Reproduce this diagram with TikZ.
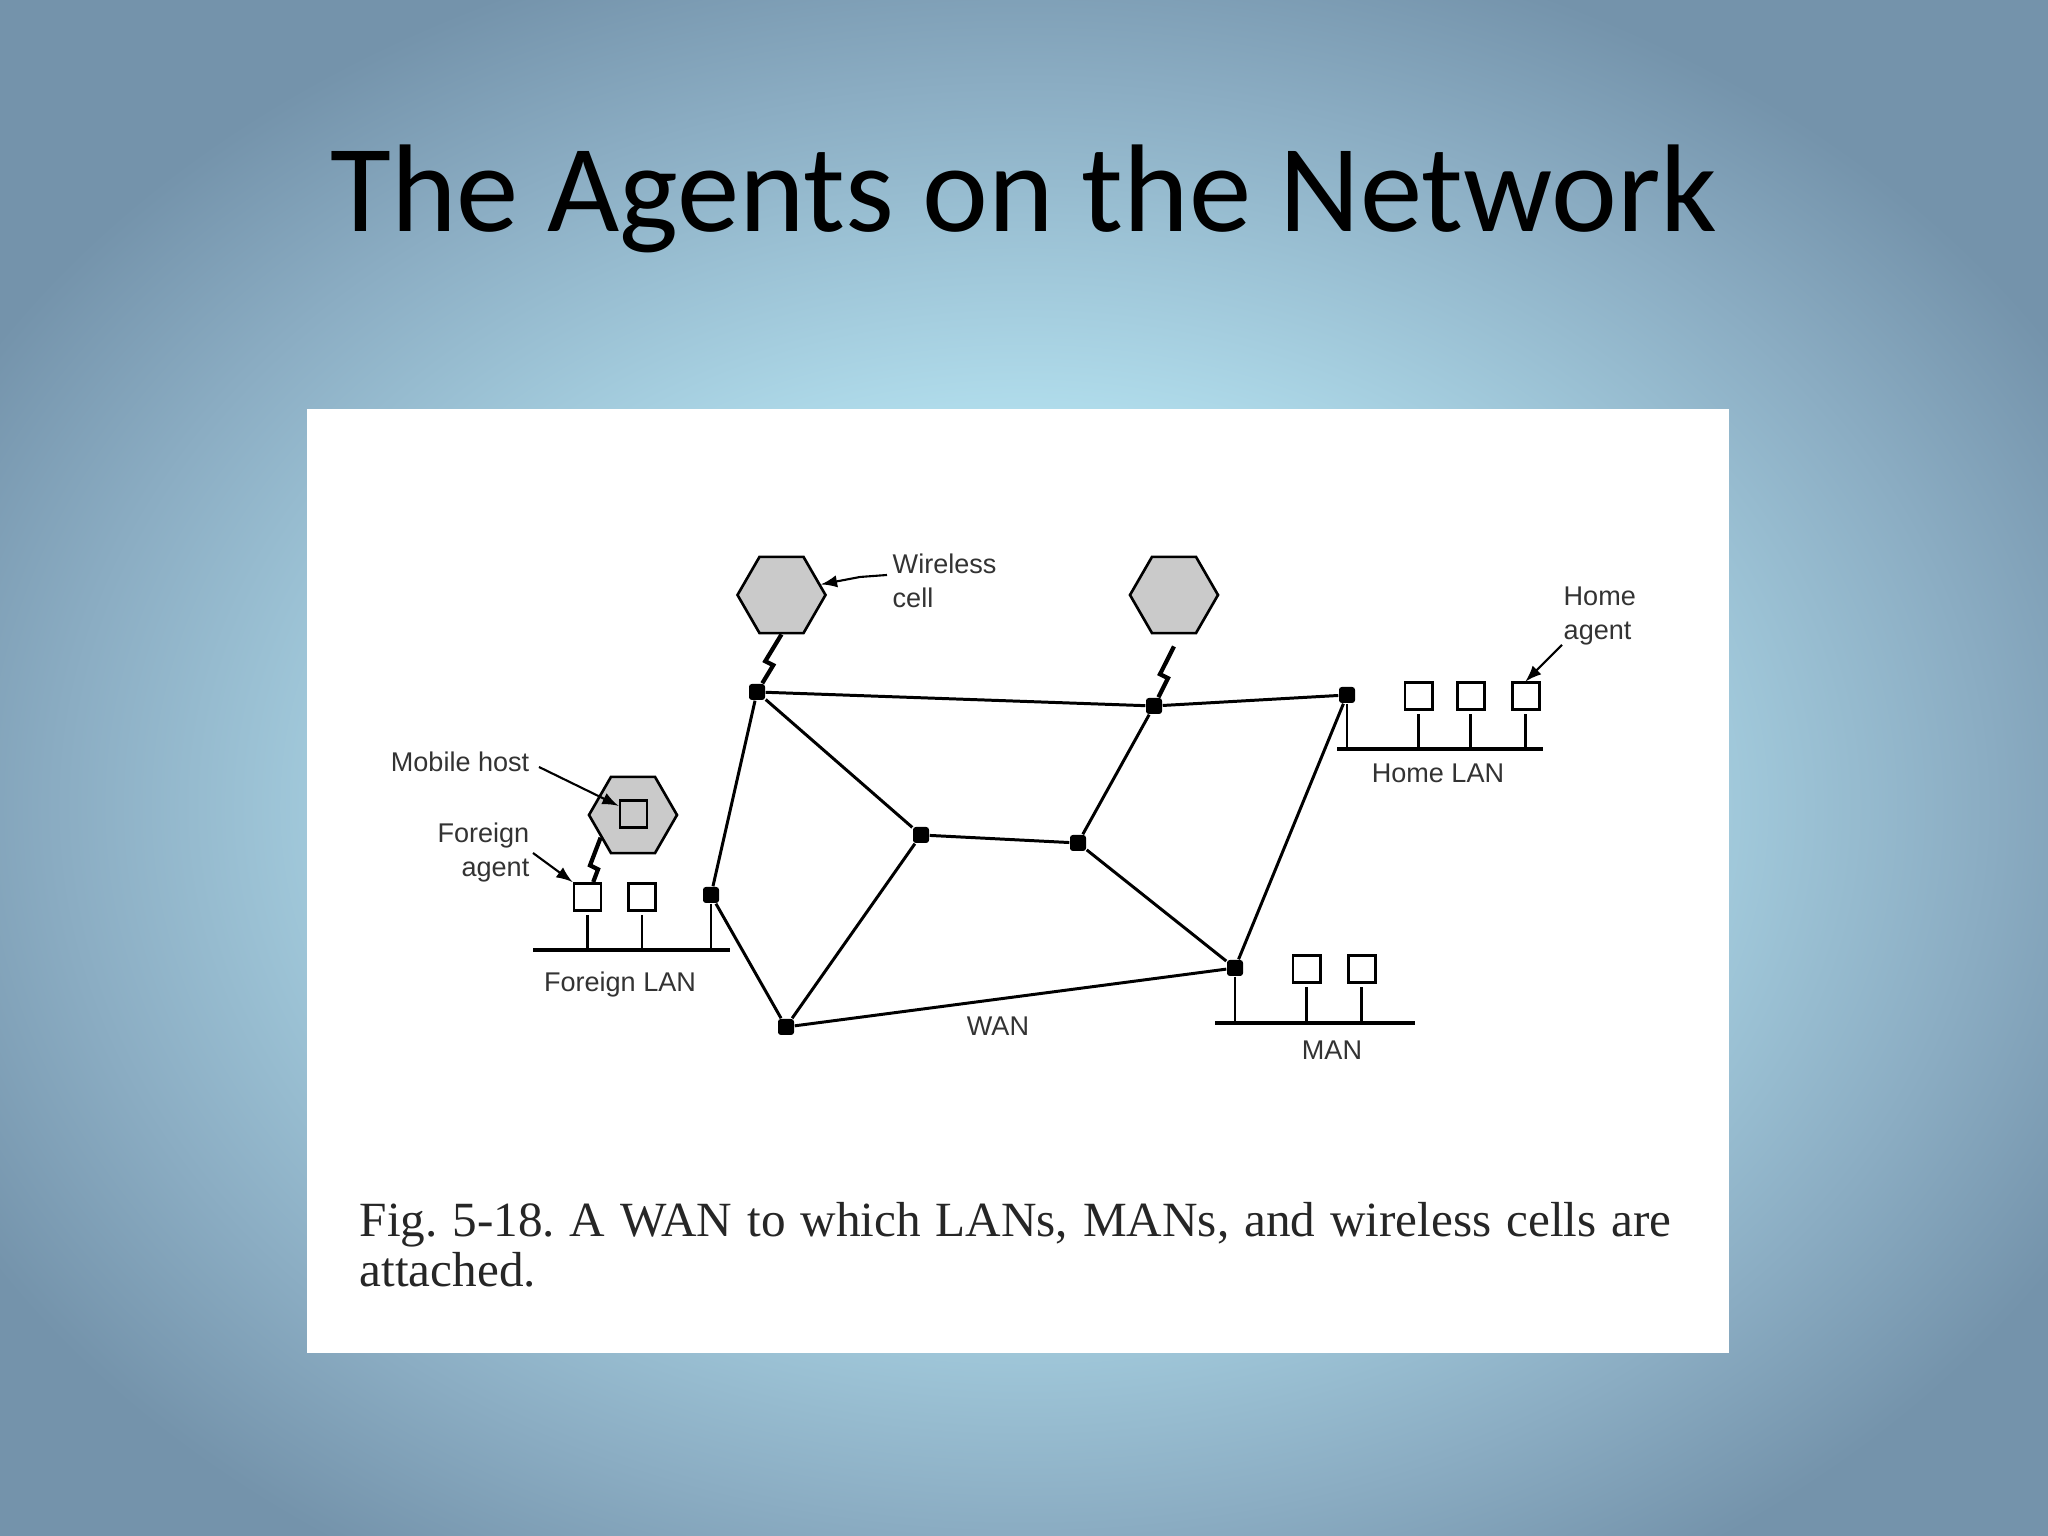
\documentclass[tikz,border=0pt]{standalone}
\usepackage{fontspec}
\usetikzlibrary{shapes.geometric,calc}
\newfontfamily\titrefont{Carlito}
\newfontfamily\legfont{Liberation Serif}
\newfontfamily\etiqfont{Liberation Sans}
\definecolor{fondclair}{HTML}{BDE8F4}
\definecolor{fondmoyen}{HTML}{B0DCEB}
\definecolor{fondsombre}{HTML}{8BADC3}
\definecolor{fondbord}{HTML}{7493AB}
\definecolor{grisclair}{HTML}{CACACA}
\pgfdeclareradialshading{fond}{\pgfpoint{0bp}{0bp}}{color(0bp)=(fondclair); color(11bp)=(fondmoyen); color(20bp)=(fondsombre); color(25bp)=(fondbord); color(50bp)=(fondbord)}

\begin{document}
\begin{tikzpicture}
 % definition des styles
  \tikzstyle{lien}=[line width=0.85pt]
  \tikzstyle{bus}=[line width=1.1pt]
  \tikzstyle{routeur}=[rectangle,fill=black,inner sep=0pt,minimum size=0.16cm,rounded corners=0.8pt]
  \tikzstyle{hote}=[rectangle,draw,line width=0.85pt,fill=white,inner sep=0pt,minimum size=0.27cm]
  \tikzstyle{cellule}=[regular polygon,regular polygon sides=6,draw,line width=0.75pt,fill=grisclair,inner sep=0pt,minimum size=0.88cm]
  \tikzstyle{fleche}=[->,>=latex,line width=0.6pt]
  \tikzstyle{foudre}=[line width=1.2pt,line join=miter]
  \tikzstyle{etiq}=[inner sep=0pt,text=black!80,font=\etiqfont\fontsize{7.7}{9.7}\selectfont]
  \newcommand{\eclair}[2]{\draw[foudre] (#1) -- ($(#1)!0.5!(#2)+(-0.04,0.02)$) -- ($(#1)!0.5!(#2)+(0.04,-0.02)$) -- (#2);}
 % le fond
  \useasboundingbox (0,0) rectangle (20.48,15.36);
  \begin{scope}
    \clip (0,0) rectangle (20.48,15.36);
    \fill[fondbord] (0,0) rectangle (20.48,15.36);
    \shade[shading=fond] (10.24,7.3) ellipse (12 and 9);
  \end{scope}
  \fill[white] (3.07,1.83) rectangle (17.29,11.27);
  \node[font=\titrefont\fontsize{35.5}{40}\selectfont,anchor=base] (titre) at (10.24,13.04) {The Agents on the Network};
 % les cellules
  \node[cellule] (cell1) at (7.815,9.41) {};
  \node[cellule] (cell2) at (11.74,9.41) {};
  \node[cellule] (cell3) at (6.33,7.21) {};
  \node[hote,fill=none] (mh) at (6.335,7.215) {};
 % les routeurs du WAN
  \node[routeur] (W1) at (7.57,8.44) {};
  \node[routeur] (W2) at (11.54,8.30) {};
  \node[routeur] (HL) at (13.47,8.41) {};
  \node[routeur] (C1) at (9.21,7.01) {};
  \node[routeur] (C2) at (10.78,6.93) {};
  \node[routeur] (FL) at (7.11,6.41) {};
  \node[routeur] (S) at (7.86,5.09) {};
  \node[routeur] (ML) at (12.35,5.68) {};
 % les hotes
  \node[hote] (fb1) at (5.875,6.39) {};
  \node[hote] (fb2) at (6.42,6.39) {};
  \node[hote] (hb1) at (14.185,8.395) {};
  \node[hote] (hb2) at (14.705,8.395) {};
  \node[hote] (hb3) at (15.255,8.395) {};
  \node[hote] (mb1) at (13.065,5.665) {};
  \node[hote] (mb2) at (13.615,5.665) {};
 % les bus
  \coordinate (fg) at (5.33,5.86);  \coordinate (fd) at (7.30,5.86);
  \coordinate (hg) at (13.37,7.87); \coordinate (hd) at (15.43,7.87);
  \coordinate (mg) at (12.15,5.13); \coordinate (md) at (14.15,5.13);
  \draw[bus] (fg)--(fd);  \draw[bus] (hg)--(hd);  \draw[bus] (mg)--(md);
  \draw[lien] (FL)--(FL|-fg);  \draw[lien] (HL)--(HL|-hg);  \draw[lien] (ML)--(ML|-mg);
  \foreach \h in {fb1,fb2} \draw[lien,shorten <=0.03cm] (\h)--(\h|-fg);
  \foreach \h in {hb1,hb2,hb3} \draw[lien,shorten <=0.03cm] (\h)--(\h|-hg);
  \foreach \h in {mb1,mb2} \draw[lien,shorten <=0.03cm] (\h)--(\h|-mg);
 % les liens
  \draw[lien] (W1)--(W2)--(HL);
  \draw[lien] (W1)--(C1)--(C2)--(W2);
  \draw[lien] (W1)--(FL)--(S)--(C1);
  \draw[lien] (S)--(ML)--(C2);
  \draw[lien] (ML)--(HL);
 % les eclairs
  \coordinate (e2) at ([yshift=-0.12cm]cell2.south);
  \eclair{cell1.south}{W1}
  \eclair{e2}{W2}
  \eclair{cell3.215}{fb1}
 % les textes (la base est celle de la derniere ligne)
  \node[etiq,anchor=base west,align=left] (wc) at (8.92,9.28) {Wireless\\cell};
  \node[etiq,anchor=base west,align=left] (ha) at (15.63,8.96) {Home\\agent};
  \node[etiq,anchor=base east] (mhl) at (5.30,7.64) {Mobile host};
  \node[etiq,anchor=base east,align=right] (fa) at (5.30,6.59) {Foreign\\agent};
  \node[etiq,anchor=base] (flan) at (6.20,5.44) {Foreign LAN};
  \node[etiq,anchor=base] (hlan) at (14.38,7.53) {Home LAN};
  \node[etiq,anchor=base] (man) at (13.32,4.76) {MAN};
  \node[etiq,anchor=base] (wan) at (9.98,5.00) {WAN};
 % les fleches
  \coordinate (wcq) at (8.87,9.61);
  \coordinate (haq) at (15.62,8.91);
  \coordinate (mhq) at (5.39,7.69);
  \coordinate (faq) at (5.33,6.83);
  \draw[fleche] (wcq)--(8.60,9.59)--(cell1.15);
  \draw[fleche] (haq)--(hb3.north);
  \draw[fleche] (mhq)--(mh.150);
  \draw[fleche] (faq)--(fb1.north west);
 % la legende
  \node[anchor=base west,align=left,inner sep=0pt,text=black!85,font=\legfont\fontsize{14}{14.4}\selectfont\frenchspacing] (leg) at (3.59,2.49)
    {\makebox[13.12cm][s]{Fig. 5-18. A WAN to which LANs, MANs, and wireless cells are}\\attached.};
\end{tikzpicture}
\end{document}
